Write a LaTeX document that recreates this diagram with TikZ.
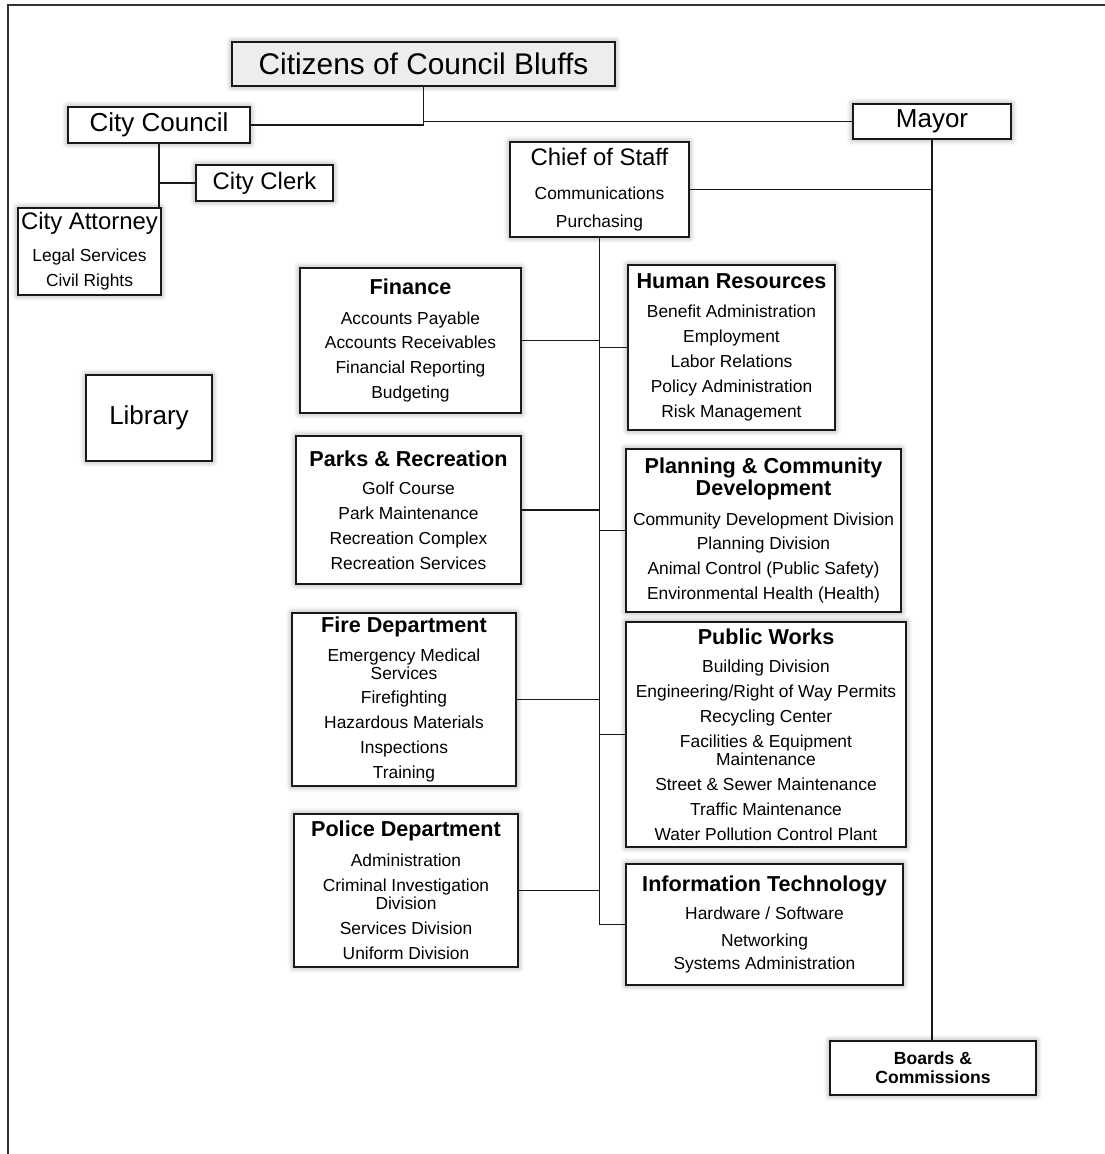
\documentclass[tikz,border=0pt]{standalone}
\usepackage{fontspec}
\setmainfont{Liberation Sans}
\usetikzlibrary{shadows.blur}

\newcommand{\itemfont}{\fontsize{9.9}{10.2}\selectfont}
\newcommand{\hd}[1]{{\fontsize{12.3}{12.5}\selectfont\bfseries #1}}
\newcommand{\nx}{\\[4pt]}

\begin{document}
\begin{tikzpicture}[x=0.02cm,y=-0.02cm]
\def\px{0.02cm}   % one pixel of the chart
\tikzset{
  unitbox/.style={draw=black!90, line width=1.35pt, fill=white, inner sep=1pt, align=center, font=\itemfont,
    blur shadow={shadow xshift=0pt, shadow yshift=0pt, shadow blur radius=3.5pt, shadow opacity=45}},
  link/.style={line width=1pt, black!90},
  frame/.style={line width=1.3pt, black!80},
}
% box #1 with options #2, corners (#3,#4) and (#5,#6), text #7
\newcommand{\orgbox}[7]{%
  \node[unitbox,#2,minimum width={(#5-#3)*\px},minimum height={(#6-#4)*\px}] (#1) at ({(#3+#5)/2},{(#4+#6)/2}) {#7};}
\useasboundingbox (0,0) rectangle (1105,1154);
\draw[frame] (8,1154) |- (1105,5);
% top of the chart
\orgbox{citizens}{fill=black!7,font=\fontsize{17}{18}\selectfont}{232}{42}{615}{86}{Citizens of Council Bluffs}
\orgbox{council}{font=\fontsize{14.8}{15}\selectfont}{68}{107}{250}{143}{City Council}
\orgbox{mayor}{font=\fontsize{14.8}{15}\selectfont}{853}{104}{1011}{139}{Mayor}
\orgbox{clerk}{font=\fontsize{13.6}{14}\selectfont}{196}{165}{333}{201}{City Clerk}
\orgbox{attorney}{}{18}{208}{161}{295}{{\fontsize{13.6}{14}\selectfont City Attorney}\\[7.9pt]Legal Services\nx Civil Rights}
\orgbox{chief}{}{510}{142}{689}{237}{{\fontsize{13.6}{14}\selectfont Chief of Staff}\\[9pt]Communications\\[5.7pt]Purchasing}
\orgbox{library}{font=\fontsize{14.8}{15}\selectfont}{86}{375}{212}{461}{Library}
\orgbox{boards}{font=\fontsize{10}{10.8}\selectfont\bfseries}{830}{1041}{1036}{1095}{Boards \&\\Commissions}
% departments, left column
\orgbox{finance}{}{300}{268}{521}{413}{\hd{Finance}\\[6.8pt]Accounts Payable\nx Accounts Receivables\nx Financial Reporting\nx Budgeting}
\orgbox{parks}{}{296}{436}{521}{584}{\hd{Parks \& Recreation}\\[5.7pt]Golf Course\nx Park Maintenance\nx Recreation Complex\nx Recreation Services}
\orgbox{fire}{}{292}{613}{516}{786}{\hd{Fire Department}\\[6.2pt]Emergency Medical\\Services\nx Firefighting\nx Hazardous Materials\nx Inspections\nx Training}
\orgbox{police}{}{294}{814}{518}{967}{\hd{Police Department}\\[6.8pt]Administration\nx Criminal Investigation\\Division\nx Services Division\nx Uniform Division}
% departments, right column
\orgbox{hr}{}{628}{265}{835}{430}{\hd{Human Resources}\\[6.2pt]Benefit Administration\nx Employment\nx Labor Relations\nx Policy Administration\nx Risk Management}
\orgbox{planning}{}{626}{449}{901}{612}{\hd{Planning \& Community}\\\hd{Development}\\[6.8pt]Community Development Division\nx Planning Division\nx Animal Control (Public Safety)\nx Environmental Health (Health)}
\orgbox{works}{}{626}{622}{906}{847}{\hd{Public Works}\\[6.2pt]Building Division\nx Engineering/Right of Way Permits\nx Recycling Center\nx Facilities \& Equipment\\Maintenance\nx Street \& Sewer Maintenance\nx Traffic Maintenance\nx Water Pollution Control Plant}
\orgbox{it}{}{626}{864}{903}{985}{\hd{Information Technology}\\[5.7pt]Hardware / Software\\[5.1pt]Networking\\[3.4pt]Systems Administration}
% connectors
\draw[link] (citizens.south) |- (council.east);
\draw[link] (citizens.south) |- (mayor.west);
\draw[link] (council.south) -- (council.south |- attorney.north);
\draw[link] (clerk.west) -- (clerk.west -| council.south);
\draw[link] (mayor.south) -- (mayor.south |- boards.north);
\draw[link] (chief.east) -- (chief.east -| mayor.south);
\draw[link] (chief.south) |- (it.west);
\foreach \dept in {finance,parks,fire,police}{\draw[link] (\dept.east) -- (\dept.east -| chief.south);}
\foreach \dept in {hr,planning,works}{\draw[link] (\dept.west) -- (\dept.west -| chief.south);}
\end{tikzpicture}
\end{document}
